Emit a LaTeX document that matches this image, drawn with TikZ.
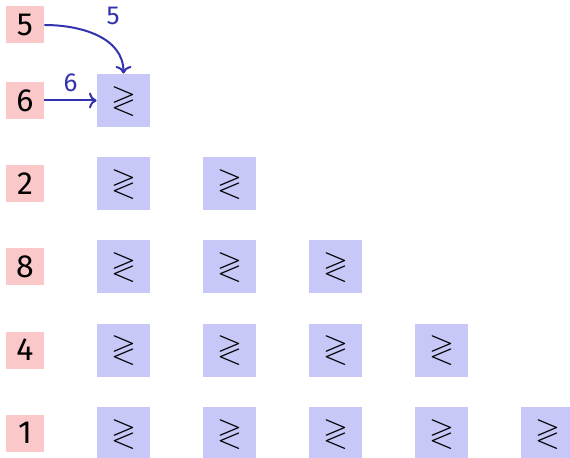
\documentclass[tikz,border=0pt]{standalone}
\usepackage{amssymb}
\usepackage{fontspec}
\setmainfont{Fira Sans}
\usetikzlibrary{arrows.meta, positioning}

\definecolor{keyred}{RGB}{250,200,200}
\definecolor{cmpblue}{RGB}{200,200,248}
\definecolor{wireblue}{RGB}{50,50,175}

\begin{document}
\begin{tikzpicture}[
        x=0.5pt, y=-0.5pt,
        key/.style={rectangle, fill=keyred, minimum width=19pt, minimum height=18.5pt, inner sep=0pt, font=\fontsize{16}{18}\selectfont},
        cmp/.style={rectangle, fill=cmpblue, minimum size=26.5pt, inner sep=0pt, font=\fontsize{16}{18}\selectfont},
        wire/.style={->, line width=1pt, draw=wireblue},
        wirelabel/.style={text=wireblue, inner sep=1pt, font=\fontsize{13}{15}\selectfont}
    ]
        \useasboundingbox (0,0) rectangle (570,458);

        % input keys and comparator triangle
        \node[key] (k0) at (25,25) {5};
        \foreach \v [count=\i] in {6,2,8,4,1} {
            \node[key] (k\i) at (25,{100.5+83.2*(\i-1)}) {\v};
            \foreach \j in {1,...,\i}
                \node[cmp] (c\i\j) at ({123.5+106*(\j-1)},{100.5+83.2*(\i-1)}) {$\gtrless$};
        }

        % wires into the first comparator
        \draw[wire] (k0) to[out=0, in=90] node[pos=0.5, above right=4pt and 3pt, wirelabel] {5} (c11);
        \draw[wire] (k1) -- node[above=3pt, wirelabel] {6} (c11);

    \end{tikzpicture}
\end{document}
